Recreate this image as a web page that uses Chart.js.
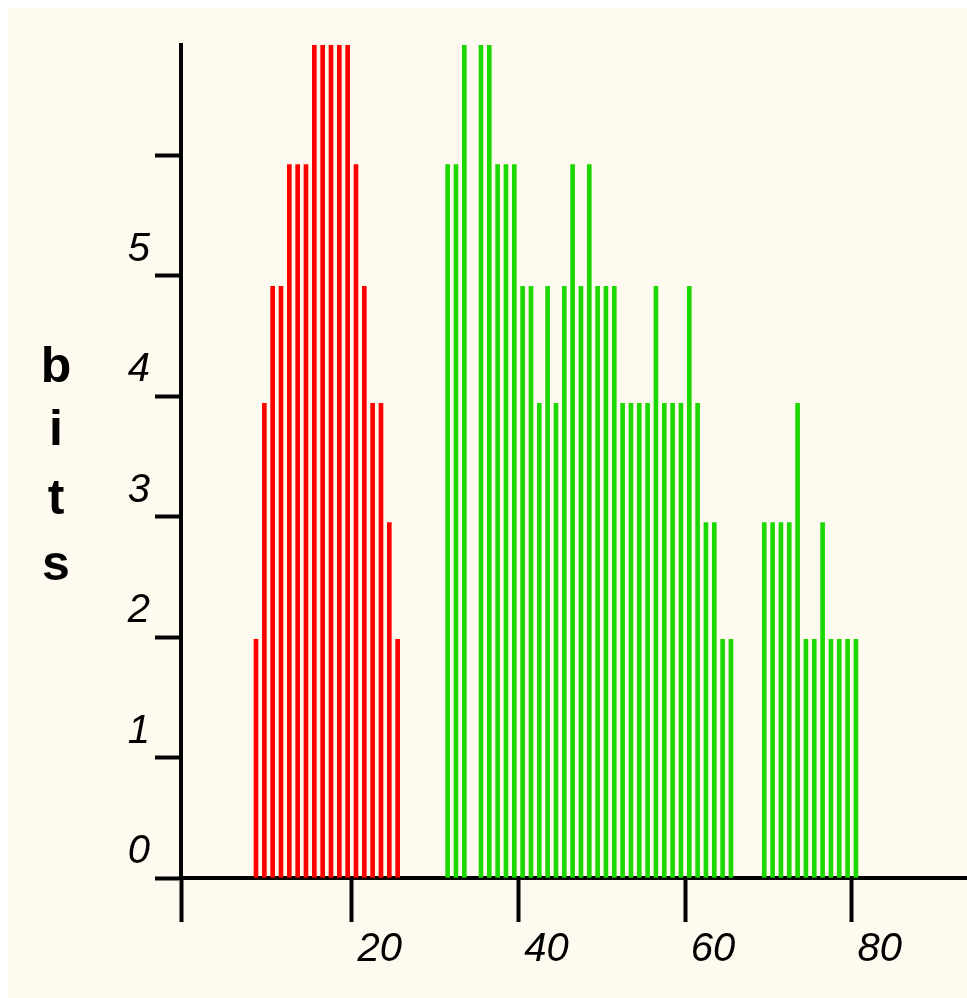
<!DOCTYPE html>
<html>
<head>
<meta charset="utf-8">
<script src="https://cdn.jsdelivr.net/npm/chart.js@4/dist/chart.umd.min.js"></script>
<style>
  html, body { margin: 0; padding: 0; background: #ffffff; }
  canvas { display: block; }
</style>
</head>
<body>
<canvas id="logo" width="967" height="998"></canvas>
<script>
// Sequence positions (bar centres) and information content in bits
const redPos   = [8.5, 9.5, 10.5, 11.5, 12.5, 13.5, 14.5, 15.5, 16.5, 17.5, 18.5, 19.5, 20.5, 21.5, 22.5, 23.5, 24.5, 25.5];
const redBits  = [1.98, 3.94, 4.91, 4.91, 5.92, 5.92, 5.92, 6.91, 6.91, 6.91, 6.91, 6.91, 5.92, 4.91, 3.94, 3.94, 2.95, 1.98];

const greenPos  = [31.5, 32.5, 33.5, 35.5, 36.5, 37.5, 38.5, 39.5, 40.5, 41.5, 42.5, 43.5, 44.5, 45.5,
                   46.5, 47.5, 48.5, 49.5, 50.5, 51.5, 52.5, 53.5, 54.5, 55.5, 56.5, 57.5, 58.5, 59.5,
                   60.5, 61.5, 62.5, 63.5, 64.5, 65.5, 69.5, 70.5, 71.5, 72.5, 73.5, 74.5, 75.5, 76.5,
                   77.5, 78.5, 79.5, 80.5];
const greenBits = [5.92, 5.92, 6.91, 6.91, 6.91, 5.92, 5.92, 5.92, 4.91, 4.91, 3.94, 4.91, 3.94, 4.91,
                   5.92, 4.91, 5.92, 4.91, 4.91, 4.91, 3.94, 3.94, 3.94, 3.94, 4.91, 3.94, 3.94, 3.94,
                   4.91, 3.94, 2.95, 2.95, 1.98, 1.98, 2.95, 2.95, 2.95, 2.95, 3.94, 1.98, 1.98, 2.95,
                   1.98, 1.98, 1.98, 1.98];

const xTicks = [20, 40, 60, 80];
const yTicks = [0, 1, 2, 3, 4, 5, 6];
const yLabelled = [0, 1, 2, 3, 4, 5];
const axisTitle = ['b', 'i', 't', 's'];

const tickFont = { family: "'Liberation Sans', Arial, sans-serif", size: 40, style: 'italic', weight: 'normal' };

// Cream panel with a thin white margin on the top/left edges
const backdrop = {
    id: 'backdrop',
    beforeDraw(chart) {
        const c = chart.ctx;
        c.save();
        c.fillStyle = '#ffffff';
        c.fillRect(0, 0, chart.width, chart.height);
        c.fillStyle = '#fffaef';
        c.fillRect(8, 8, chart.width - 8, chart.height - 8);
        c.restore();
    }
};

// Stacked "b i t s" label on the left
const stackedTitle = {
    id: 'stackedTitle',
    afterDraw(chart) {
        const c = chart.ctx;
        const baselines = [382, 445, 514, 580];
        c.save();
        c.fillStyle = '#000';
        c.font = "bold 50px 'Liberation Sans', Arial, sans-serif";
        c.textAlign = 'center';
        c.textBaseline = 'alphabetic';
        axisTitle.forEach((ch, i) => c.fillText(ch, 56, baselines[i]));
        c.restore();
    }
};

const toPoints = (xs, ys) => xs.map((x, i) => ({ x, y: ys[i] }));

new Chart(document.getElementById('logo').getContext('2d'), {
    type: 'bar',
    data: {
        datasets: [
            { data: toPoints(redPos, redBits),     backgroundColor: '#ff0000', barThickness: 4, grouped: false, borderWidth: 0 },
            { data: toPoints(greenPos, greenBits), backgroundColor: '#1dd800', barThickness: 4, grouped: false, borderWidth: 0 },
        ]
    },
    options: {
        responsive: false,
        animation: false,
        devicePixelRatio: 1,
        layout: { padding: { top: 45, right: 0, bottom: 0, left: 0 } },
        plugins: { legend: { display: false }, tooltip: { enabled: false } },
        scales: {
            x: {
                type: 'linear',
                offset: false,
                min: -0.5,
                max: 93.83,
                afterFit: s => { s.height = 120; },
                afterBuildTicks: s => { s.ticks = [{ value: -0.5 }].concat(xTicks.map(v => ({ value: v }))); },
                border: { display: true, color: '#000', width: 4 },
                grid: { offset: false, drawOnChartArea: false, drawTicks: true, tickLength: 44, tickWidth: 4, tickColor: '#000' },
                ticks: {
                    color: '#000', font: tickFont, padding: 4, labelOffset: 28, maxRotation: 0, autoSkip: false,
                    callback: v => xTicks.includes(v) ? String(v) : ''
                }
            },
            y: {
                min: 0,
                max: 6.913,
                afterFit: s => { s.width = 181; },
                afterBuildTicks: s => { s.ticks = yTicks.map(v => ({ value: v })); },
                border: { display: true, color: '#000', width: 4 },
                grid: { drawOnChartArea: false, drawTicks: true, tickLength: 26, tickWidth: 4, tickColor: '#000' },
                ticks: {
                    color: '#000', font: tickFont, padding: 5, labelOffset: -26, autoSkip: false,
                    callback: v => yLabelled.includes(v) ? String(v) : ''
                }
            }
        }
    },
    plugins: [backdrop, stackedTitle]
});
</script>
</body>
</html>
